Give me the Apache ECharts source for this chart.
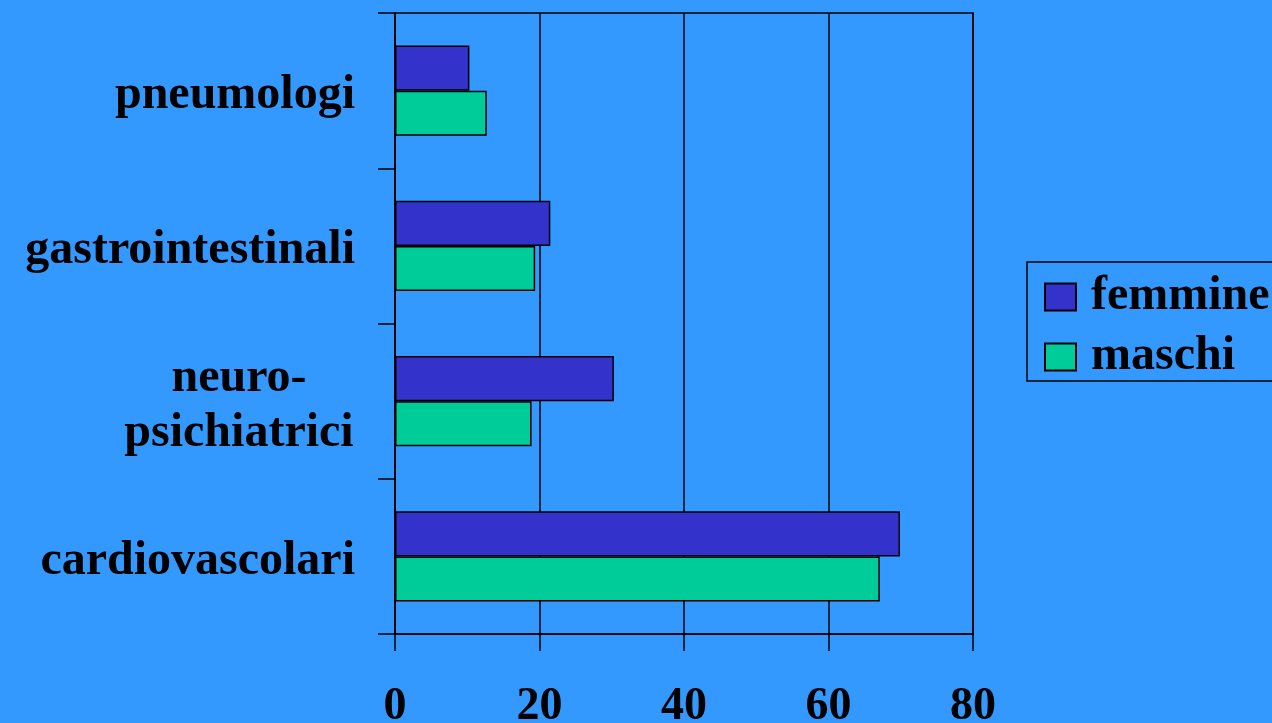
<!DOCTYPE html>
<html>
<head>
<meta charset="utf-8">
<script src="https://cdn.jsdelivr.net/npm/echarts@6/dist/echarts.min.js"></script>
<style>
  html, body { margin: 0; padding: 0; background: #3399FF; }
  #main { width: 1272px; height: 723px; }
</style>
</head>
<body>
<div id="main"></div>
<script>
// categorie dal basso verso l'alto
var categorie = ['cardiovascolari', 'neuro-\npsichiatrici', 'gastrointestinali', 'pneumologi'];
var femmine = [69.9, 30.3, 21.5, 10.3];
var maschi = [67.1, 18.9, 19.4, 12.7];
var tickX = [0, 20, 40, 60, 80];

var fontSerif = '"Liberation Serif", "Times New Roman", serif';

var myChart = echarts.init(document.getElementById('main'));

var option = {
    backgroundColor: '#3399FF',
    animation: false,
    grid: {
        left: 395,
        right: 299,
        top: 13,
        bottom: 89,
        outerBoundsMode: 'none',
        containLabel: false,
        show: true,
        borderColor: '#000',
        borderWidth: 1.5,
        backgroundColor: 'transparent'
    },
    legend: {
        orient: 'vertical',
        left: 1027,
        top: 262,
        data: ['femmine', 'maschi'],
        itemWidth: 31,
        itemHeight: 27,
        itemGap: 12,
        padding: [11, 60, 0, 17],
        borderColor: '#000',
        borderWidth: 1.5,
        icon: 'rect',
        textStyle: {
            fontFamily: fontSerif,
            fontWeight: 'bold',
            fontSize: 48,
            color: '#000',
            lineHeight: 44,
            padding: [0, 0, 0, 10]
        }
    },
    xAxis: {
        type: 'value',
        min: tickX[0],
        max: tickX[tickX.length - 1],
        interval: 20,
        axisLine: { show: true, lineStyle: { color: '#000', width: 1.5 } },
        axisTick: { show: true, length: 17, lineStyle: { color: '#000', width: 1.5 } },
        splitLine: { show: true, lineStyle: { color: '#000', width: 1.5 } },
        axisLabel: {
            margin: 50,
            fontFamily: fontSerif,
            fontWeight: 'bold',
            fontSize: 46,
            color: '#000'
        }
    },
    yAxis: {
        type: 'category',
        data: categorie,
        axisLine: { show: true, lineStyle: { color: '#000', width: 1.5 } },
        axisTick: { show: true, length: 17, lineStyle: { color: '#000', width: 1.5 } },
        axisLabel: {
            margin: 40,
            fontFamily: fontSerif,
            fontWeight: 'bold',
            fontSize: 48,
            lineHeight: 55,
            color: '#000',
            align: 'right',
            padding: [10, 0, 0, 0],
            formatter: function (val) {
                if (val.indexOf('\n') < 0) return val;
                // righe centrate tra loro
                return val.split('\n').map(function (r) { return '{c|' + r + '}'; }).join('\n');
            },
            rich: {
                c: {
                    width: 232,
                    align: 'center',
                    fontFamily: fontSerif,
                    fontWeight: 'bold',
                    fontSize: 48,
                    lineHeight: 55,
                    color: '#000'
                }
            }
        }
    },
    series: [
        {
            name: 'femmine',
            type: 'bar',
            data: femmine,
            barGap: '0%',
            barCategoryGap: '42%',
            itemStyle: { color: '#3333CC', borderColor: '#000', borderWidth: 1.5 }
        },
        {
            name: 'maschi',
            type: 'bar',
            data: maschi,
            barGap: '0%',
            barCategoryGap: '42%',
            itemStyle: { color: '#00CC99', borderColor: '#000', borderWidth: 1.5 }
        }
    ]
};

myChart.setOption(option);
</script>
</body>
</html>
